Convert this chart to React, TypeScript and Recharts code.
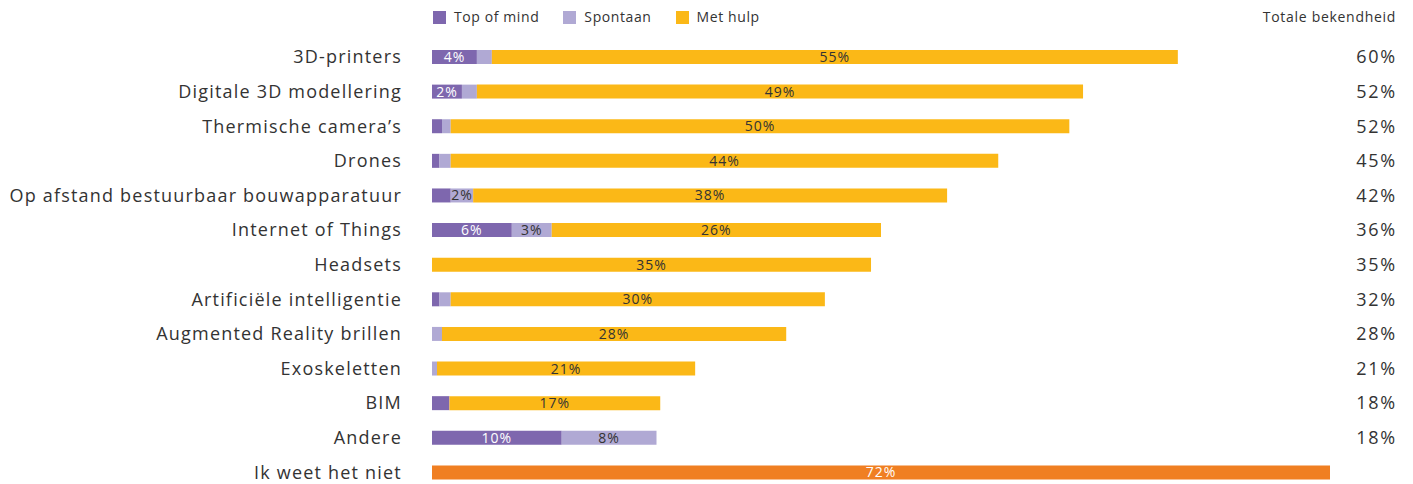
import { Bar, BarChart, LabelList, XAxis, YAxis } from "recharts";

const categories = [
  "3D-printers",
  "Digitale 3D modellering",
  "Thermische camera’s",
  "Drones",
  "Op afstand bestuurbaar bouwapparatuur",
  "Internet of Things",
  "Headsets",
  "Artificiële intelligentie",
  "Augmented Reality brillen",
  "Exoskeletten",
  "BIM",
  "Andere",
  "Ik weet het niet",
];
const topOfMind = [3.6, 2.4, 0.8, 0.6, 1.5, 6.4, 0, 0.6, 0, 0, 1.4, 10.4, 0];
const spontaan = [1.2, 1.2, 0.7, 0.9, 1.8, 3.2, 0, 0.9, 0.8, 0.4, 0, 7.6, 0];
const metHulp = [55, 48.6, 49.6, 43.9, 38, 26.4, 35.2, 30, 27.6, 20.7, 16.9, 0, 0];
const weetNiet = [0, 0, 0, 0, 0, 0, 0, 0, 0, 0, 0, 0, 72];
const totals = [60, 52, 52, 45, 42, 36, 35, 32, 28, 21, 18, 18, null];

const data = categories.map((name, i) => ({
  name,
  top: topOfMind[i],
  spont: spontaan[i],
  hulp: metHulp[i],
  weet: weetNiet[i],
  total: totals[i],
}));

const FONT = "'Open Sans', sans-serif";
const TEXT = "#333333";
const COLORS = {
  top: "#7e67ae",
  spont: "#b0a9d4",
  hulp: "#fbb817",
  weet: "#f07f22",
};

const legendItems = [
  { label: "Top of mind", color: COLORS.top },
  { label: "Spontaan", color: COLORS.spont },
  { label: "Met hulp", color: COLORS.hulp },
];

const pct = (v: any) => (v >= 1.75 ? `${Math.round(v)}%` : "");

function LeftTick({ x, y, payload }: any) {
  return (
    <text x={x} y={y} dy={6} textAnchor="end" fill={TEXT} fontSize={18} fontFamily={FONT} letterSpacing={1.2}>
      {payload.value}
    </text>
  );
}

function RightTick({ x, y, payload }: any) {
  const row = data.find((d) => d.name === payload.value);
  if (!row || row.total == null) return null;
  return (
    <text x={x} y={y} dy={6} textAnchor="end" fill={TEXT} fontSize={18} fontFamily={FONT} letterSpacing={1.8}>
      {row.total}%
    </text>
  );
}

const labelProps = { position: "center" as const, formatter: pct, fontSize: 14, fontFamily: FONT, letterSpacing: 1 };

export default function App() {
  return (
    <div
      style={{
        position: "fixed",
        left: 0,
        top: 0,
        width: 1413,
        height: 484,
        overflow: "hidden",
        background: "#fff",
        fontFamily: FONT,
      }}
    >
      <div
        style={{
          position: "absolute",
          left: 433,
          top: 8,
          display: "flex",
          gap: 24,
          fontSize: 14,
          color: TEXT,
          lineHeight: "18px",
          letterSpacing: 0.6,
        }}
      >
        {legendItems.map((it) => (
          <div key={it.label} style={{ display: "flex", alignItems: "center", gap: 8 }}>
            <span style={{ width: 13, height: 13, background: it.color, display: "inline-block" }} />
            <span>{it.label}</span>
          </div>
        ))}
      </div>
      <div
        style={{
          position: "absolute",
          right: 17,
          top: 8,
          fontSize: 14,
          color: TEXT,
          lineHeight: "18px",
          letterSpacing: 0.7,
        }}
      >
        Totale bekendheid
      </div>
      <BarChart
        layout="vertical"
        width={1413}
        height={490}
        data={data}
        margin={{ top: 40, right: 0, bottom: 0, left: 0 }}
        barSize={14}
      >
        <XAxis type="number" domain={[0, 72]} hide />
        <YAxis
          yAxisId="left"
          type="category"
          dataKey="name"
          width={432}
          axisLine={false}
          tickLine={false}
          tickSize={0}
          tickMargin={30}
          interval={0}
          tick={<LeftTick />}
        />
        <YAxis
          yAxisId="right"
          type="category"
          dataKey="name"
          orientation="right"
          width={83}
          axisLine={false}
          tickLine={false}
          tickSize={0}
          tickMargin={0}
          interval={0}
          tick={(p: any) => <RightTick {...p} x={1397} />}
        />
        <Bar yAxisId="left" dataKey="top" stackId="a" fill={COLORS.top} isAnimationActive={false}>
          <LabelList dataKey="top" {...labelProps} fill="#ffffff" />
        </Bar>
        <Bar yAxisId="left" dataKey="spont" stackId="a" fill={COLORS.spont} isAnimationActive={false}>
          <LabelList dataKey="spont" {...labelProps} fill={TEXT} />
        </Bar>
        <Bar yAxisId="left" dataKey="hulp" stackId="a" fill={COLORS.hulp} isAnimationActive={false}>
          <LabelList dataKey="hulp" {...labelProps} fill={TEXT} />
        </Bar>
        <Bar yAxisId="left" dataKey="weet" stackId="a" fill={COLORS.weet} isAnimationActive={false}>
          <LabelList dataKey="weet" {...labelProps} fill="#ffffff" />
        </Bar>
      </BarChart>
    </div>
  );
}
